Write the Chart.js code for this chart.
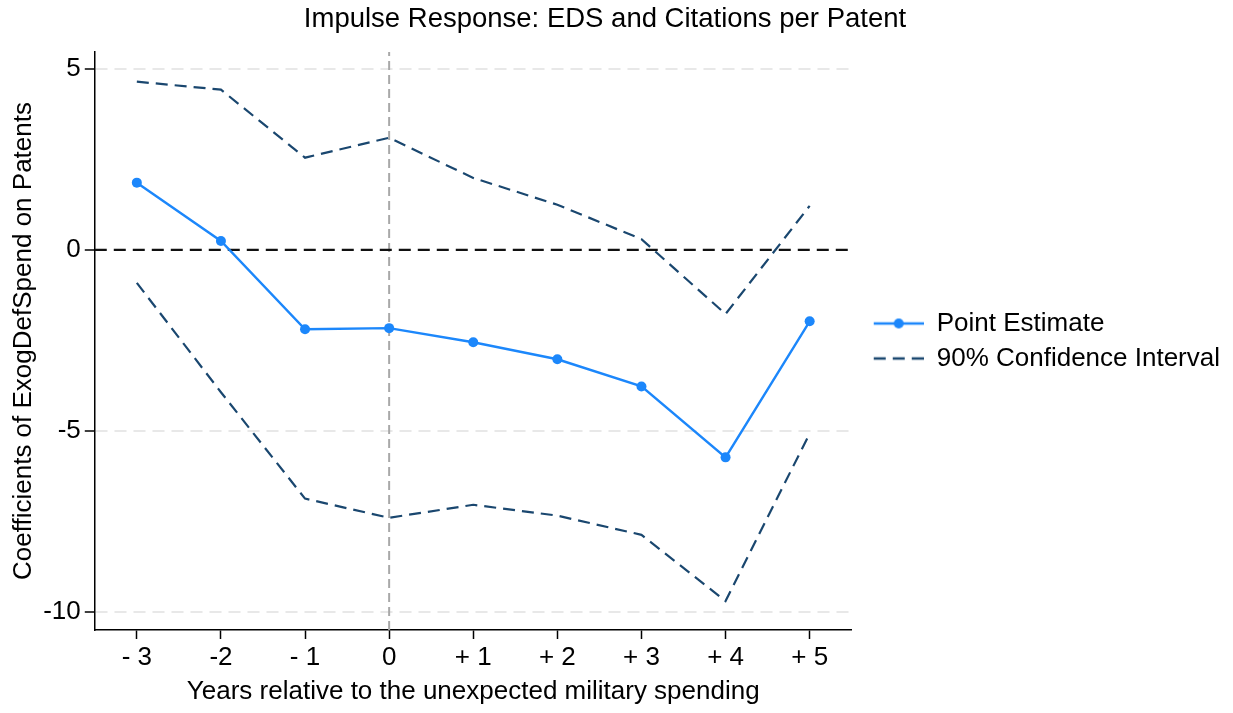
<!DOCTYPE html>
<html>
<head>
<meta charset="utf-8">
<script src="https://cdn.jsdelivr.net/npm/chart.js@4.4.0/dist/chart.umd.min.js"></script>
<style>
html, body { margin: 0; padding: 0; background: #fff; }
#wrap { width: 1233px; height: 713px; }
</style>
</head>
<body>
<div id="wrap"><canvas id="chart" width="1233" height="713"></canvas></div>
<script>
// data
const years = [-3, -2, -1, 0, 1, 2, 3, 4, 5];
const yearLabels = ['- 3', '-2', '- 1', '0', '+ 1', '+ 2', '+ 3', '+ 4', '+ 5'];
const pointEstimate = [1.86, 0.25, -2.19, -2.16, -2.55, -3.02, -3.77, -5.73, -1.97];
const ciUpper = [4.65, 4.43, 2.55, 3.10, 1.99, 1.25, 0.30, -1.77, 1.22];
const ciLower = [-0.91, -3.93, -6.87, -7.40, -7.04, -7.34, -7.87, -9.70, -5.07];
const yTicks = [-10, -5, 0, 5];
const xRange = [-3.5, 5.5];
const yRange = [-10.5, 5.47];

const FONT = "'Liberation Sans', Arial, Helvetica, sans-serif";
const BLUE = '#1c87fb';
const NAVY = '#1a476f';

const toPoints = (vals) => years.map((x, i) => ({ x: x, y: vals[i] }));

// small canvases used as legend symbols (left margin keeps the gap to the plot)
function legendSymbol(color, dash, withDot) {
    const c = document.createElement('canvas');
    c.width = 63;
    c.height = 12;
    const g = c.getContext('2d');
    g.strokeStyle = color;
    g.lineWidth = 2.4;
    g.setLineDash(dash);
    g.beginPath();
    g.moveTo(13, 6);
    g.lineTo(63, 6);
    g.stroke();
    if (withDot) {
        g.fillStyle = color;
        g.beginPath();
        g.arc(38, 6, 5, 0, Math.PI * 2);
        g.fill();
    }
    return c;
}

// the reference title sits a little left of the canvas centre
const titleShift = {
    id: 'titleShift',
    afterLayout(chart) {
        if (chart.titleBlock) chart.titleBlock.right -= 26;
    }
};

const ctx = document.getElementById('chart').getContext('2d');

new Chart(ctx, {
    type: 'line',
    data: {
        datasets: [
            {
                label: 'Point Estimate',
                data: toPoints(pointEstimate),
                borderColor: BLUE,
                backgroundColor: BLUE,
                borderWidth: 2.4,
                pointRadius: 5,
                pointHoverRadius: 5,
                pointBorderWidth: 0,
                legendImg: legendSymbol(BLUE, [], true),
                order: 1
            },
            {
                label: '90% Confidence Interval',
                data: toPoints(ciUpper),
                borderColor: NAVY,
                borderWidth: 2.2,
                borderDash: [12, 7],
                pointRadius: 0,
                legendImg: legendSymbol(NAVY, [12, 7], false),
                order: 2
            },
            {
                label: 'lower',
                data: toPoints(ciLower),
                borderColor: NAVY,
                borderWidth: 2.2,
                borderDash: [12, 7],
                pointRadius: 0,
                order: 3
            },
            {
                label: 'zero',
                data: [{ x: xRange[0], y: 0 }, { x: xRange[1], y: 0 }],
                borderColor: '#111',
                borderWidth: 2.2,
                borderDash: [12, 7],
                pointRadius: 0,
                order: 4
            },
            {
                label: 'event',
                data: [{ x: 0, y: yRange[0] }, { x: 0, y: yRange[1] }],
                borderColor: '#a8a8a8',
                borderWidth: 2,
                borderDash: [9, 5],
                pointRadius: 0,
                order: 5
            }
        ]
    },
    options: {
        responsive: false,
        animation: false,
        layout: { padding: { left: 6, right: 3, top: 0, bottom: 3.6 } },
        scales: {
            x: {
                type: 'linear',
                min: xRange[0],
                max: xRange[1],
                afterBuildTicks: (axis) => { axis.ticks = years.map(v => ({ value: v })); },
                ticks: {
                    callback: (v) => yearLabels[years.indexOf(v)],
                    color: '#000',
                    font: { family: FONT, size: 26, lineHeight: 1.0 },
                    padding: 5.6,
                    maxRotation: 0,
                    autoSkip: false
                },
                grid: { drawOnChartArea: false, drawTicks: true, tickColor: '#000', tickLength: 9, tickWidth: 1.5 },
                border: { color: '#000', width: 1.5 },
                title: {
                    display: true,
                    text: 'Years relative to the unexpected military spending',
                    color: '#000',
                    font: { family: FONT, size: 26 },
                    padding: { top: 0, bottom: 2 }
                }
            },
            y: {
                min: yRange[0],
                max: yRange[1],
                afterBuildTicks: (axis) => { axis.ticks = yTicks.map(v => ({ value: v })); },
                ticks: {
                    color: '#000',
                    font: { family: FONT, size: 26 },
                    padding: 4
                },
                grid: {
                    color: (c) => (c.tick && c.tick.value === 0) ? 'rgba(0,0,0,0)' : '#e8e8e8',
                    lineWidth: 2,
                    tickColor: '#000',
                    tickLength: 10,
                    tickWidth: 1.5
                },
                border: { color: '#000', width: 1.5, dash: [12, 7] },
                title: {
                    display: true,
                    text: 'Coefficients of ExogDefSpend on Patents',
                    color: '#000',
                    font: { family: FONT, size: 26 },
                    padding: { top: 2, bottom: 0 }
                }
            }
        },
        plugins: {
            title: {
                display: true,
                text: 'Impulse Response: EDS and Citations per Patent',
                color: '#000',
                font: { family: FONT, size: 27.5, weight: 'normal' },
                padding: { top: 3, bottom: 16 }
            },
            legend: {
                position: 'right',
                fullSize: false,
                maxWidth: 420,
                labels: {
                    usePointStyle: true,
                    pointStyleWidth: 63,
                    boxHeight: 12,
                    padding: 9,
                    color: '#000',
                    font: { family: FONT, size: 26 },
                    filter: (item, data) => !!data.datasets[item.datasetIndex].legendImg,
                    generateLabels: (chart) => chart.data.datasets.map((ds, i) => ({
                        text: ds.label,
                        datasetIndex: i,
                        pointStyle: ds.legendImg || 'line',
                        fillStyle: ds.borderColor,
                        strokeStyle: ds.borderColor,
                        lineWidth: 0,
                        hidden: false
                    }))
                }
            },
            tooltip: { enabled: false }
        }
    },
    plugins: [titleShift]
});
</script>
</body>
</html>
